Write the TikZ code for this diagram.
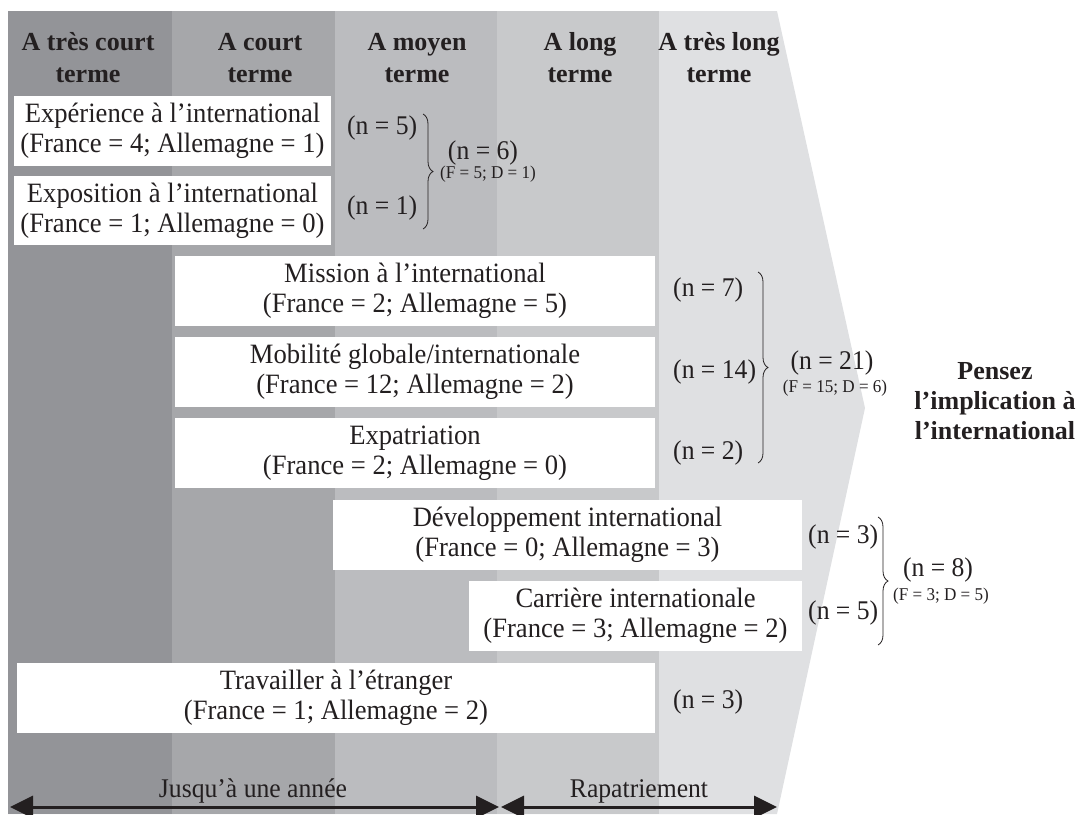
\documentclass[tikz,border=0pt]{standalone}
\usepackage{fontspec}
\setmainfont{Liberation Serif}
\newfontfamily\bodyfont{Liberation Serif}[FakeStretch=0.95]
\usetikzlibrary{arrows.meta,decorations.pathreplacing}
\definecolor{cA}{HTML}{939498}
\definecolor{cB}{HTML}{A6A7AA}
\definecolor{cC}{HTML}{BBBCBF}
\definecolor{cD}{HTML}{C8C9CB}
\definecolor{cE}{HTML}{DFE0E2}
\definecolor{txt}{HTML}{231F20}
\begin{document}
\begin{tikzpicture}[x=1pt,y=-1pt,
  every node/.style={text=txt},
  hdr/.style={align=center,inner sep=0pt,font=\fontsize{26}{32}\selectfont\bfseries},
  boxnode/.style={fill=white,inner sep=0pt,minimum height=70pt,align=center,font=\bodyfont\fontsize{28}{30}\selectfont},
  nlab/.style={inner sep=0pt,font=\bodyfont\fontsize{27}{30}\selectfont},
  slab/.style={inner sep=0pt,font=\bodyfont\fontsize{18}{20}\selectfont},
  bracestyle/.style={draw=txt,line width=0.8pt,decorate,decoration={brace,amplitude=10pt}},
  arrowline/.style={draw=txt,line width=3pt,{Triangle[length=23pt,width=22pt]}-{Triangle[length=23pt,width=22pt]}}
]
\useasboundingbox (0,0) rectangle (1081,814);
% background chevron and columns
\fill[cE] (8,11) -- (777,11) -- (865,408) -- (777,814) -- (8,814) -- cycle;
\fill[cA] (8,11) rectangle (172,814);
\fill[cB] (172,11) rectangle (335,814);
\fill[cC] (335,11) rectangle (497,814);
\fill[cD] (497,11) rectangle (659,814);
% headers
\node[hdr] (h1) at (88,58) {A très court\\terme};
\node[hdr] (h2) at (260,58) {A court\\terme};
\node[hdr] (h3) at (417,58) {A moyen\\terme};
\node[hdr] (h4) at (580,58) {A long\\terme};
\node[hdr] (h5) at (719,58) {A très long\\terme};
% boxes
\node[boxnode,minimum width=317pt] (exp) at (172.5,131) {Expérience à l’international\\(France = 4; Allemagne = 1)};
\node[boxnode,minimum width=317pt,minimum height=69pt] (expo) at (172.5,210.5) {Exposition à l’international\\(France = 1; Allemagne = 0)};
\node[boxnode,minimum width=480pt] (mis) at (415,291) {Mission à l’international\\(France = 2; Allemagne = 5)};
\node[boxnode,minimum width=480pt] (mob) at (415,372) {Mobilité globale/internationale\\(France = 12; Allemagne = 2)};
\node[boxnode,minimum width=480pt] (expa) at (415,453) {Expatriation\\(France = 2; Allemagne = 0)};
\node[boxnode,minimum width=469pt] (dev) at (567.5,535) {Développement international\\(France = 0; Allemagne = 3)};
\node[boxnode,minimum width=333pt] (car) at (635.5,616) {Carrière internationale\\(France = 3; Allemagne = 2)};
\node[boxnode,minimum width=638pt] (tra) at (336,698) {Travailler à l’étranger\\(France = 1; Allemagne = 2)};
% counts group 1
\node[nlab,anchor=west] (n5) at (347,128) {(n = 5)};
\node[nlab,anchor=west] (n1) at (347,208) {(n = 1)};
\coordinate (b1t) at (423,114);
\coordinate (b1b) at (423,229);
\draw[bracestyle] (b1t) -- (b1b);
\node[nlab] (n6) at (483,153) {(n = 6)};
\node[slab] (s6) at (488,174) {(F = 5; D = 1)};
% counts group 2
\node[nlab,anchor=west] (n7) at (673,290) {(n = 7)};
\node[nlab,anchor=west] (n14) at (673,372) {(n = 14)};
\node[nlab,anchor=west] (n2) at (673,453) {(n = 2)};
\coordinate (b2t) at (758,272);
\coordinate (b2b) at (758,463);
\draw[bracestyle] (b2t) -- (b2b);
\node[nlab] (n21) at (832,363) {(n = 21)};
\node[slab] (s21) at (835,388) {(F = 15; D = 6)};
% counts group 3
\node[nlab,anchor=west] (n3a) at (808,537) {(n = 3)};
\node[nlab,anchor=west] (n5b) at (808,613) {(n = 5)};
\coordinate (b3t) at (878,517);
\coordinate (b3b) at (878,645);
\draw[bracestyle] (b3t) -- (b3b);
\node[nlab] (n8) at (938,570) {(n = 8)};
\node[slab] (s8) at (941,596) {(F = 3; D = 5)};
% last count
\node[nlab,anchor=west] (n3b) at (673,702) {(n = 3)};
% right label
\node[align=center,inner sep=0pt,font=\fontsize{26}{30}\selectfont\bfseries] (pz) at (995,401) {Pensez\\l’implication à\\l’international};
% bottom arrows
\coordinate (a1) at (10,807);
\coordinate (a2) at (499,807);
\coordinate (a3) at (501,807);
\coordinate (a4) at (777,807);
\draw[arrowline] (a1) -- (a2);
\draw[arrowline] (a3) -- (a4);
\node[nlab,anchor=base] (l1) at (253,797) {Jusqu’à une année};
\node[nlab,anchor=base] (l2) at (639,797) {Rapatriement};
\end{tikzpicture}
\end{document}
